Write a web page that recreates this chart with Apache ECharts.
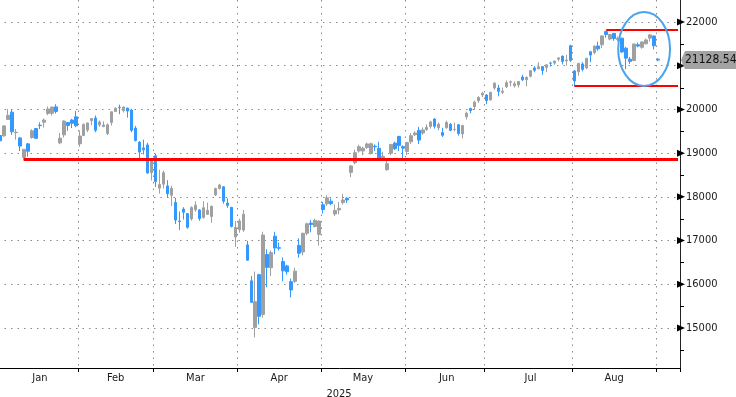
<!DOCTYPE html>
<html>
<head>
<meta charset="utf-8">
<script src="https://cdn.jsdelivr.net/npm/echarts@6/dist/echarts.min.js"></script>
<style>html,body{margin:0;padding:0;background:#fff;}#c{width:736px;height:397px;}</style>
</head>
<body>
<div id="c"></div>
<script>
// ---- Data ----
const dates = [
'2025-01-02','2025-01-03','2025-01-06','2025-01-07','2025-01-08','2025-01-10','2025-01-13','2025-01-14','2025-01-15','2025-01-16','2025-01-17','2025-01-21','2025-01-22','2025-01-23','2025-01-24','2025-01-27','2025-01-28','2025-01-29','2025-01-30','2025-01-31',
'2025-02-03','2025-02-04','2025-02-05','2025-02-06','2025-02-07','2025-02-10','2025-02-11','2025-02-12','2025-02-13','2025-02-14','2025-02-18','2025-02-19','2025-02-20','2025-02-21','2025-02-24','2025-02-25','2025-02-26','2025-02-27','2025-02-28',
'2025-03-03','2025-03-04','2025-03-05','2025-03-06','2025-03-07','2025-03-10','2025-03-11','2025-03-12','2025-03-13','2025-03-14','2025-03-17','2025-03-18','2025-03-19','2025-03-20','2025-03-21','2025-03-24','2025-03-25','2025-03-26','2025-03-27','2025-03-28','2025-03-31',
'2025-04-01','2025-04-02','2025-04-03','2025-04-04','2025-04-07','2025-04-08','2025-04-09','2025-04-10','2025-04-11','2025-04-14','2025-04-15','2025-04-16','2025-04-17','2025-04-21','2025-04-22','2025-04-23','2025-04-24','2025-04-25','2025-04-28','2025-04-29','2025-04-30',
'2025-05-01','2025-05-02','2025-05-05','2025-05-06','2025-05-07','2025-05-08','2025-05-09','2025-05-12','2025-05-13','2025-05-14','2025-05-15','2025-05-16','2025-05-19','2025-05-20','2025-05-21','2025-05-22','2025-05-23','2025-05-27','2025-05-28','2025-05-29','2025-05-30',
'2025-06-02','2025-06-03','2025-06-04','2025-06-05','2025-06-06','2025-06-09','2025-06-10','2025-06-11','2025-06-12','2025-06-13','2025-06-16','2025-06-17','2025-06-18','2025-06-20','2025-06-23','2025-06-24','2025-06-25','2025-06-26','2025-06-27','2025-06-30',
'2025-07-01','2025-07-02','2025-07-03','2025-07-07','2025-07-08','2025-07-09','2025-07-10','2025-07-11','2025-07-14','2025-07-15','2025-07-16','2025-07-17','2025-07-18','2025-07-21','2025-07-22','2025-07-23','2025-07-24','2025-07-25','2025-07-28','2025-07-29','2025-07-30','2025-07-31',
'2025-08-01','2025-08-04','2025-08-05','2025-08-06','2025-08-07','2025-08-08','2025-08-11','2025-08-12','2025-08-13','2025-08-14','2025-08-15','2025-08-18','2025-08-19','2025-08-20','2025-08-21','2025-08-22','2025-08-25','2025-08-26','2025-08-27','2025-08-28','2025-08-29',
'2025-09-02'
];
// [open, close, low, high]
const jan = [
[19403,19281,19175,19517],[19395,19622,19379,19638],[19771,19865,19759,20007],[19938,19490,19420,19994],
[19469,19479,19309,19551],[19347,19162,19048,19371],[18903,19088,18831,19093],[19212,19044,18920,19233],
[19358,19511,19330,19548],[19563,19338,19333,19572],[19640,19630,19550,19705],[19707,19757,19583,19793],
[19909,20009,19868,20068],[19912,20054,19860,20060],[20058,19954,19904,20118],[19235,19342,19204,19461],
[19418,19734,19356,19752],[19703,19632,19510,19710],[19757,19682,19573,19784],[19831,19627,19593,19968]
];
const feb = [
[19215,19392,19142,19516],[19405,19654,19388,19680],[19528,19692,19480,19696],[19743,19792,19640,19800],
[19804,19523,19478,19862],[19645,19714,19602,19749],[19606,19644,19594,19727],[19448,19650,19411,19680],
[19700,19946,19632,19950],[19952,20027,19940,20045],[20050,20041,19891,20110],[19975,20056,19930,20071],
[20030,19962,19812,20040],[19985,19524,19478,20016],[19573,19287,19268,19620],[19250,19026,18874,19275],
[19120,19075,18970,19310],[19188,18544,18538,19238],[18553,18847,18374,18860]
];
const mar = [
[18938,18350,18227,18980],[18200,18285,18074,18620],[18290,18553,18190,18603],[18250,18069,17996,18381],
[18036,18196,17788,18255],[17870,17468,17380,17977],[17448,17436,17238,17664],[17720,17648,17482,17764],
[17617,17303,17270,17631],[17495,17754,17455,17785],[17706,17809,17659,17898],[17700,17504,17452,17720],
[17530,17751,17500,17901],[17600,17692,17592,17866],[17550,17784,17406,17800],[18043,18189,18023,18210],
[18190,18272,18168,18300],[18231,17899,17844,18243],[17858,17804,17748,17967],[17760,17323,17300,17770],
[17080,17299,16854,17450]
];
const apr = [
[17250,17450,17180,17500],[17240,17601,17200,17700],[16900,16551,16539,16994],[16080,15588,15575,16190],
[15010,15603,14784,16292],[16220,15268,15080,16240],[15310,17125,15237,17203],[16680,16387,15930,16800],
[16380,16724,16187,16774],[17100,16831,16686,17200],[16838,16823,16774,16955],[16520,16307,16071,16616],
[16420,16286,16217,16450],[16060,15871,15700,16130],[16068,16300,16031,16377],[16890,16708,16610,17052],
[16740,17166,16662,17180],[17168,17383,17119,17410],[17400,17366,17190,17469],[17322,17461,17301,17500],
[17140,17446,16885,17460]
];
const may = [
[17820,17711,17620,17880],[17840,17978,17795,18035],[17900,17844,17810,17965],[17610,17690,17560,17828],
[17700,17738,17600,17880],[17868,17928,17820,18070],[17970,17929,17860,17990],[18560,18708,18450,18730],
[18780,19010,18745,19080],[19050,19147,19010,19190],[19050,19112,18950,19150],[19130,19211,19095,19240],
[18990,19215,18970,19240],[19160,19143,19050,19200],[19110,18873,18850,19260],[18860,18926,18830,19030],
[18620,18760,18600,18840],[19000,19199,18950,19210],[19230,19101,19070,19260],[19380,19176,19050,19400],
[19150,19114,18860,19180]
];
const jun = [
[19040,19243,18950,19260],[19260,19399,19210,19460],[19420,19460,19390,19500],[19520,19298,19210,19600],
[19460,19530,19420,19590],[19540,19591,19510,19660],[19610,19715,19560,19740],[19780,19616,19560,19800],
[19580,19662,19520,19700],[19470,19407,19370,19580],[19580,19701,19560,19740],[19660,19521,19500,19690],
[19540,19546,19500,19700],[19650,19447,19400,19660],[19440,19631,19340,19650],[19830,19913,19770,19950],
[20020,19974,19910,20040],[20060,20168,19990,20200],[20200,20273,20150,20300],[20330,20370,20280,20400]
];
const jul = [
[20330,20203,20120,20350],[20220,20393,20200,20400],[20490,20601,20450,20620],[20490,20413,20300,20560],
[20390,20418,20350,20500],[20520,20611,20490,20660],[20620,20631,20530,20660],[20540,20586,20500,20640],
[20560,20640,20500,20650],[20740,20678,20650,20790],[20680,20730,20530,20760],[20760,20886,20730,20900],
[20950,20896,20850,20990],[20930,20974,20920,21080],[20980,20893,20790,20990],[20960,21020,20850,21030],
[21060,21058,20980,21090],[21060,21108,21020,21110],[21150,21179,21100,21190],[21220,21098,21030,21230],
[21110,21130,21000,21250],[21457,21122,21083,21480]
];
const aug = [
[20880,20650,20538,20900],[20860,21054,20770,21060],[21040,20917,20870,21080],[20950,21169,20920,21180],
[21320,21243,21080,21340],[21300,21450,21260,21460],[21450,21385,21340,21550],[21480,21682,21400,21690],
[21780,21713,21640,21803],[21610,21711,21580,21730],[21740,21623,21570,21750],[21600,21630,21560,21670],
[21630,21315,21290,21640],[21400,21173,20920,21430],[21150,21100,21040,21200],[21120,21497,21100,21500],
[21480,21449,21420,21530],[21420,21544,21390,21560],[21500,21590,21490,21620],[21630,21705,21550,21720],
[21680,21456,21370,21690]
];
const sep = [[21150,21128.54,21100,21170]];

const monthNames = ['Jan','Feb','Mar','Apr','May','Jun','Jul','Aug'];
const yTickValues = [15000,16000,17000,18000,19000,20000,21000,22000];
const yMinorTickValues = [14500,15500,16500,17500,18500,19500,20500,21500];
const yearLabel = '2025';
const lastPrice = 21128.54;
// red horizontal levels: value and the date where each starts
const levelValues = [18850, 20540, 21817];
const levelStarts = ['2025-01-13', '2025-08-01', '2025-08-13'];
const levelWidths = [3, 2, 2];
// highlight ellipse bounds (data space)
const ringFrom = '2025-08-18';
const ringToIndex = 168;
const ringTop = 22229;
const ringBottom = 20536;

// ---- Build ----
const ohlc = [].concat(jan, feb, mar, apr, may, jun, jul, aug, sep);
const padCount = 5;
const categories = dates.concat(Array.from({length: padCount}, (_, i) => 'pad' + i));
const monthOf = dates.map(d => +d.slice(5, 7));
const monthStart = new Set();
for (let i = 1; i < dates.length; i++) if (monthOf[i] !== monthOf[i - 1]) monthStart.add(i);
const labelAt = {};
for (let m = 1; m <= monthNames.length; m++) {
  const idx = monthOf.map((v, i) => v === m ? i : -1).filter(i => i >= 0);
  const mid = Math.floor((idx[0] + idx[idx.length - 1] + 1) / 2);
  labelAt[mid] = monthNames[m - 1];
}
const FONT = "'DejaVu Sans Condensed','DejaVu Sans',sans-serif";
const GRID = {left: -2, right: 56, top: 0, bottom: 29, containLabel: false, outerBoundsMode: 'none'};
const lastCat = categories[categories.length - 1];

const chart = echarts.init(document.getElementById('c'));
chart.setOption({
  animation: false,
  backgroundColor: '#fff',
  grid: GRID,
  xAxis: {
    type: 'category', data: categories, boundaryGap: true,
    axisLine: {lineStyle: {color: '#000', width: 1}},
    axisTick: {show: true, interval: (i) => monthStart.has(i), length: 4, lineStyle: {color: '#000'}},
    axisLabel: {interval: (i) => labelAt[i] !== undefined, formatter: (v, i) => labelAt[i] || '',
      color: '#1a1a1a', fontSize: 11, fontFamily: FONT, margin: 5},
    splitLine: {show: true, interval: (i) => monthStart.has(i), lineStyle: {type: [1.5, 5], color: '#8a8a8a', width: 1}},
    name: yearLabel, nameLocation: 'middle', nameGap: 16,
    nameTextStyle: {color: '#1a1a1a', fontSize: 11, fontFamily: FONT}
  },
  yAxis: {
    type: 'value', position: 'right', min: 14085, max: 22503, scale: true,
    axisLine: {show: true, lineStyle: {color: '#222', width: 1}},
    axisTick: {show: false, customValues: yTickValues},
    axisLabel: {customValues: yTickValues, formatter: (v) => String(v), color: '#1a1a1a', fontSize: 11, fontFamily: FONT, margin: 6},
    splitLine: {show: true, lineStyle: {type: [1.5, 5], color: '#8a8a8a', width: 1}}
  },
  series: [{
    type: 'candlestick',
    data: ohlc,
    barWidth: 3,
    itemStyle: {color: '#a0a0a0', color0: '#3399ff', borderColor: '#a0a0a0', borderColor0: '#3399ff', borderWidth: 1},
    markLine: {
      symbol: 'none', silent: true, animation: false,
      label: {show: false},
      data: levelValues.map((v, k) => [
        {coord: [levelStarts[k], v], lineStyle: {color: '#ff0000', width: levelWidths[k], type: 'solid'}},
        {coord: [lastCat, v]}
      ])
    }
  }]
});

// annotations positioned through the chart's own scales
const yLast = chart.convertToPixel({yAxisIndex: 0}, lastPrice);
const axisX = 736 - GRID.right;
const p1 = chart.convertToPixel({xAxisIndex: 0, yAxisIndex: 0}, [ringFrom, ringTop]);
const p2 = chart.convertToPixel({xAxisIndex: 0, yAxisIndex: 0}, [ringToIndex, ringBottom]);
const tickMarks = yTickValues.map(v => {
  const y = chart.convertToPixel({yAxisIndex: 0}, v);
  return {type: 'polygon', shape: {points: [[axisX - 3, y - 3.5], [axisX + 5, y], [axisX - 3, y + 3.5]]}, style: {fill: '#000'}, z: 90};
});
const minorMarks = yMinorTickValues.map(v => {
  const y = Math.round(chart.convertToPixel({yAxisIndex: 0}, v)) + 0.5;
  return {type: 'line', shape: {x1: axisX, y1: y, x2: axisX + 4, y2: y}, style: {stroke: '#000', lineWidth: 1}, z: 90};
});
chart.setOption({
  graphic: [
    {type: 'ellipse', shape: {cx: (p1[0] + p2[0]) / 2, cy: (p1[1] + p2[1]) / 2, rx: Math.abs(p2[0] - p1[0]) / 2, ry: Math.abs(p2[1] - p1[1]) / 2},
     style: {fill: 'none', stroke: '#4aa3ec', lineWidth: 2}, z: 100},
    {type: 'polygon', shape: {points: [[axisX + 1, yLast], [axisX + 5, yLast - 9], [736, yLast - 9], [736, yLast + 9], [axisX + 5, yLast + 9]]},
     style: {fill: '#a3a3a3'}, z: 100},
    {type: 'text', x: axisX + 5, y: yLast, style: {text: lastPrice.toFixed(2), fill: '#111', font: '12px ' + FONT, textVerticalAlign: 'middle', verticalAlign: 'middle'}, z: 101}
  ].concat(tickMarks, minorMarks)
});
</script>
</body>
</html>
